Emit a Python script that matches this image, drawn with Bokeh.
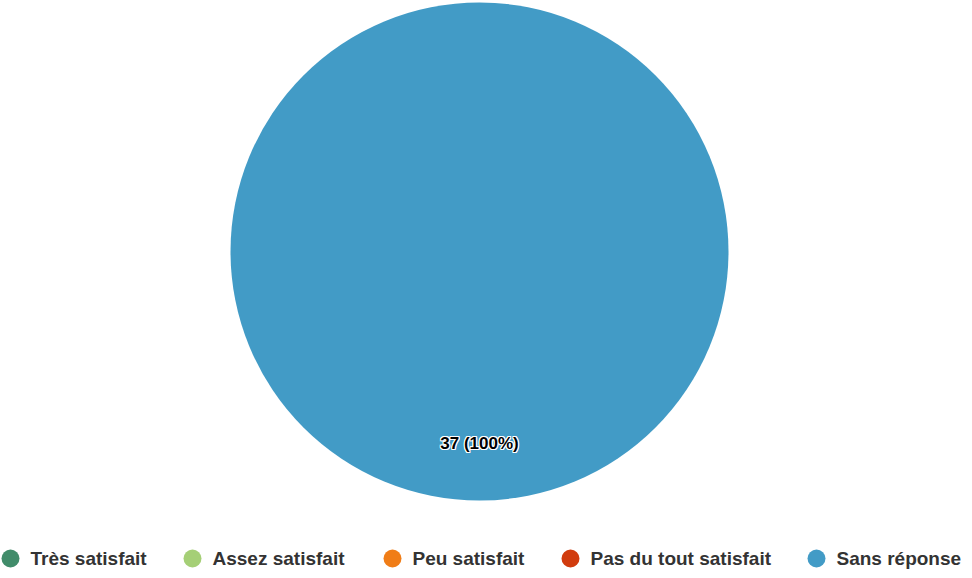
import math
from bokeh.plotting import figure
from bokeh.models import Range1d, ColumnDataSource
from bokeh.core.properties import value
from bokeh.embed import file_html
from bokeh.resources import INLINE

# ---- data ----
categories = ["Très satisfait", "Assez satisfait", "Peu satisfait", "Pas du tout satisfait", "Sans réponse"]
counts = [0, 0, 0, 0, 37]
colors = ["#418c6a", "#a5cf76", "#f07d17", "#d13c0e", "#429bc6"]

# ---- layout constants ----
W, H = 964, 570
CX, CY, R = 479, 319, 249
LABEL_DIST = 192
LEGEND_Y = 12
legend_marker_x = [10, 192, 392, 570, 816]
FONT = "Liberation Sans"

total = sum(counts)
# clockwise from 12 o'clock -> bokeh ccw angles from +x
starts, ends, mids, wcolors = [], [], [], []
acc = 0.0
for c, col in zip(counts, colors):
    a0 = acc / total * 2 * math.pi
    acc += c
    a1 = acc / total * 2 * math.pi
    mids.append((a0 + a1) / 2)
    if c > 0:
        starts.append(math.pi / 2 - a1)
        ends.append(math.pi / 2 - a0)
        wcolors.append(col)

src = ColumnDataSource(dict(start=starts, end=ends, color=wcolors))

p = figure(width=W, height=H, x_range=Range1d(0, W), y_range=Range1d(0, H),
           output_backend="svg", toolbar_location=None, min_border=0)
p.axis.visible = False
p.grid.visible = False
p.outline_line_color = None
p.background_fill_color = "white"

if len(starts) == 1:
    p.circle(x=CX, y=CY, radius=R, fill_color=wcolors[0], line_color=None)
else:
    p.wedge(x=CX, y=CY, radius=R, start_angle="start", end_angle="end",
            fill_color="color", line_color="white", line_width=1, source=src)

# data labels with white halo
lx, ly, lt = [], [], []
for c, m in zip(counts, mids):
    if c > 0:
        lx.append(CX + LABEL_DIST * math.sin(m))
        ly.append(CY + LABEL_DIST * math.cos(m))
        lt.append(f"{c} ({round(100 * c / total)}%)")
lsrc = ColumnDataSource(dict(x=lx, y=ly, t=lt))
for dx, dy in [(-1, -1), (-1, 0), (-1, 1), (0, -1), (0, 1), (1, -1), (1, 0), (1, 1)]:
    p.text(x="x", y="y", text="t", source=lsrc, x_offset=dx, y_offset=dy,
           text_font=value(FONT), text_font_style="bold", text_font_size="17px",
           text_color="white", text_align="center", text_baseline="middle")
p.text(x="x", y="y", text="t", source=lsrc,
       text_font=value(FONT), text_font_style="bold", text_font_size="17px",
       text_color="#000000", text_align="center", text_baseline="middle")

# legend
legsrc = ColumnDataSource(dict(x=legend_marker_x, tx=[x + 20 for x in legend_marker_x],
                               y=[LEGEND_Y] * len(categories), color=colors, cat=categories))
p.scatter(x="x", y="y", size=18, marker="circle", fill_color="color", line_color=None, source=legsrc)
p.text(x="tx", y="y", text="cat", source=legsrc, text_font=value(FONT), text_font_style="bold",
       text_font_size="19px", text_color="#333333", text_align="left", text_baseline="middle")

html = file_html(p, INLINE)
html = html.replace("</head>", "<style>html,body{overflow:hidden;}</style></head>", 1)
open("out.html", "w").write(html)
